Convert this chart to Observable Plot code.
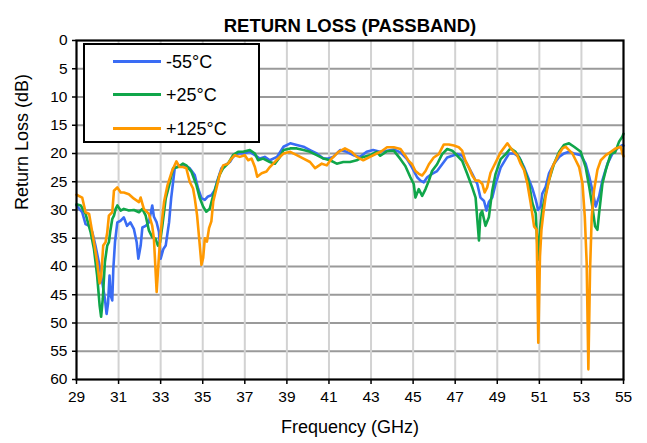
<!DOCTYPE html>
<html>
<head>
<meta charset="utf-8">
<script src="https://cdn.jsdelivr.net/npm/d3@7"></script>
<script src="https://cdn.jsdelivr.net/npm/@observablehq/plot@0.6"></script>
<style>
  html, body { margin: 0; padding: 0; background: #fff; }
  #wrap { position: relative; width: 647px; height: 443px; font-family: "Liberation Sans", Arial, sans-serif; }
  #legend { position: absolute; left: 83px; top: 43px; width: 173px; height: 96px; border: 2px solid #000; background: #fff; }
  .entry { position: absolute; left: 0; height: 20px; }
  .swatch { position: absolute; left: 28px; width: 48px; height: 3px; }
  .lab { position: absolute; left: 81px; font-size: 18px; line-height: 20px; white-space: nowrap; color: #000; }
</style>
</head>
<body>
<div id="wrap"><div id="legend"></div></div>
<script>
const titleText = "RETURN LOSS (PASSBAND)";
const xLabel = "Frequency (GHz)";
const yLabel = "Return Loss (dB)";
const xTicks = [29, 31, 33, 35, 37, 39, 41, 43, 45, 47, 49, 51, 53, 55];
const yTicks = [0, 5, 10, 15, 20, 25, 30, 35, 40, 45, 50, 55, 60];
const seriesNames = ["-55°C", "+25°C", "+125°C"];
const seriesColors = ["#3a6cf4", "#10a64a", "#ff9900"];

// [frequency GHz, return loss dB]
const minus55 = [[29.0,29.2],[29.27,30.4],[29.43,32.5],[29.6,32.8],[29.75,33.9],[29.9,36.3],[30.06,39.2],[30.2,42.2],[30.35,45.7],[30.43,48.4],[30.5,46.5],[30.57,41.6],[30.62,45.1],[30.7,46.0],[30.75,40.4],[30.83,35.7],[30.94,32.2],[31.1,31.9],[31.25,31.3],[31.4,32.8],[31.56,32.2],[31.73,33.4],[31.86,35.7],[31.94,38.6],[32.05,36.3],[32.13,33.1],[32.29,32.8],[32.44,32.2],[32.6,29.2],[32.68,31.2],[32.81,32.2],[32.92,33.9],[33.0,38.6],[33.13,36.9],[33.24,36.3],[33.4,32.2],[33.5,27.9],[33.67,22.6],[33.9,22.1],[34.14,22.1],[34.38,22.6],[34.62,23.8],[34.78,26.2],[34.94,27.9],[35.1,28.2],[35.25,27.6],[35.41,27.4],[35.57,26.5],[35.73,24.4],[35.89,22.6],[36.05,22.1],[36.29,21.5],[36.44,20.6],[36.68,20.0],[36.92,20.0],[37.24,19.7],[37.48,20.3],[37.71,20.9],[37.95,20.6],[38.19,21.2],[38.53,20.6],[38.84,18.8],[39.16,18.2],[39.47,18.5],[39.79,18.8],[40.1,19.4],[40.42,20.0],[40.74,20.9],[40.97,20.9],[41.2,20.6],[41.53,19.4],[41.84,19.7],[42.16,20.3],[42.48,20.6],[42.79,19.7],[43.1,19.4],[43.42,19.7],[43.76,19.5],[44.08,19.3],[44.4,19.8],[44.71,21.0],[44.95,22.5],[45.19,24.2],[45.35,24.8],[45.51,25.1],[45.67,24.2],[45.9,23.6],[46.14,23.1],[46.38,21.9],[46.62,20.7],[46.86,20.4],[47.1,20.1],[47.33,20.4],[47.57,21.9],[47.81,23.6],[48.05,25.4],[48.2,27.8],[48.37,28.4],[48.49,30.1],[48.6,28.6],[48.76,27.8],[48.92,25.4],[49.16,22.5],[49.4,21.0],[49.56,20.0],[49.8,20.0],[50.03,20.6],[50.27,22.4],[50.51,24.7],[50.67,26.2],[50.83,28.2],[50.94,30.0],[51.06,29.4],[51.14,27.1],[51.3,25.9],[51.46,23.5],[51.7,21.8],[51.94,20.6],[52.17,20.0],[52.41,19.7],[52.65,20.0],[52.97,20.3],[53.2,21.8],[53.37,24.1],[53.52,26.5],[53.68,29.4],[53.84,27.6],[54.0,24.7],[54.24,21.8],[54.48,20.0],[54.71,19.1],[54.95,18.5],[55.0,18.6]];

const plus25 = [[29.0,29.0],[29.2,29.2],[29.43,30.7],[29.67,33.9],[29.83,36.9],[29.98,41.6],[30.1,46.9],[30.17,48.9],[30.25,45.7],[30.35,39.2],[30.46,36.3],[30.54,35.7],[30.6,33.9],[30.7,31.6],[30.78,31.0],[30.86,29.8],[30.94,29.2],[31.1,30.1],[31.25,29.8],[31.49,30.1],[31.73,30.0],[31.97,30.4],[32.13,29.8],[32.29,31.0],[32.44,33.6],[32.6,34.8],[32.76,35.1],[32.87,36.3],[32.97,35.7],[33.08,32.8],[33.24,28.0],[33.4,25.7],[33.59,22.6],[33.83,22.4],[34.06,21.8],[34.22,22.1],[34.46,23.2],[34.7,25.6],[34.86,27.9],[35.02,29.4],[35.17,30.3],[35.33,29.8],[35.5,27.4],[35.65,25.6],[35.8,23.8],[35.97,22.6],[36.2,21.8],[36.44,20.3],[36.68,19.7],[36.92,19.7],[37.24,19.4],[37.48,20.0],[37.63,21.2],[37.87,20.9],[38.19,21.5],[38.43,21.8],[38.67,20.6],[38.84,19.4],[39.16,19.1],[39.47,19.1],[39.79,19.4],[40.1,19.7],[40.42,20.3],[40.74,20.9],[41.05,21.2],[41.37,21.8],[41.68,21.5],[42.0,21.5],[42.32,21.2],[42.63,20.6],[42.95,20.3],[43.27,19.7],[43.44,20.4],[43.76,19.6],[44.08,19.5],[44.4,21.0],[44.63,22.2],[44.87,24.2],[45.03,25.4],[45.11,27.8],[45.27,26.3],[45.43,27.5],[45.59,26.3],[45.75,24.8],[45.9,23.1],[46.14,21.9],[46.38,20.1],[46.62,19.2],[46.86,19.5],[47.1,20.4],[47.33,21.3],[47.57,23.6],[47.81,26.0],[47.97,27.8],[48.13,35.4],[48.2,30.7],[48.28,30.2],[48.44,32.8],[48.6,31.3],[48.76,26.6],[48.92,23.6],[49.16,21.0],[49.4,20.1],[49.63,19.1],[49.87,19.7],[50.11,21.2],[50.35,23.5],[50.51,25.3],[50.67,28.8],[50.83,30.6],[50.94,38.8],[51.03,33.5],[51.14,30.0],[51.3,27.1],[51.46,24.7],[51.7,21.8],[51.94,19.7],[52.17,18.5],[52.41,18.2],[52.65,18.8],[52.97,19.7],[53.2,22.4],[53.37,25.9],[53.52,29.4],[53.65,32.9],[53.76,33.5],[53.84,30.6],[54.0,25.3],[54.16,22.9],[54.4,20.0],[54.6,19.8],[54.79,17.9],[54.95,17.0],[55.0,16.5]];

const plus125 = [[29.0,27.3],[29.27,27.8],[29.43,30.4],[29.6,30.7],[29.83,35.7],[29.98,39.2],[30.1,43.0],[30.17,42.0],[30.27,36.3],[30.38,35.7],[30.46,34.0],[30.54,31.0],[30.7,30.4],[30.78,26.6],[30.94,26.0],[31.1,26.9],[31.25,26.9],[31.49,27.2],[31.73,28.0],[31.97,28.6],[32.05,27.8],[32.2,29.8],[32.44,30.7],[32.6,32.8],[32.68,35.1],[32.81,44.5],[32.9,39.2],[33.0,34.0],[33.16,28.6],[33.32,25.7],[33.55,23.0],[33.75,21.4],[33.9,22.4],[34.06,22.4],[34.22,22.6],[34.38,25.0],[34.54,26.2],[34.62,27.9],[34.73,30.9],[34.83,35.0],[34.94,39.7],[35.02,38.5],[35.1,35.0],[35.2,35.6],[35.3,33.2],[35.41,32.0],[35.5,28.5],[35.65,26.2],[35.8,23.8],[35.97,22.1],[36.2,21.8],[36.37,20.9],[36.52,20.3],[36.76,20.6],[37.0,20.3],[37.16,21.2],[37.32,20.9],[37.48,22.4],[37.59,24.1],[37.8,23.5],[38.03,23.2],[38.19,22.4],[38.5,21.2],[38.84,20.0],[39.16,19.7],[39.47,20.3],[39.79,20.9],[40.1,21.5],[40.34,22.6],[40.66,21.8],[40.9,22.1],[41.13,20.9],[41.45,19.7],[41.76,19.1],[42.08,19.7],[42.32,20.6],[42.63,21.2],[42.95,20.6],[43.27,20.0],[43.5,19.6],[43.76,18.9],[44.08,18.9],[44.4,19.2],[44.63,20.4],[44.79,21.3],[44.95,21.9],[45.11,23.1],[45.27,23.6],[45.43,23.9],[45.59,23.1],[45.75,21.9],[45.98,20.7],[46.22,20.1],[46.46,18.4],[46.7,18.4],[46.94,18.6],[47.17,18.9],[47.33,19.5],[47.49,21.3],[47.65,22.5],[47.81,23.9],[47.97,24.8],[48.13,24.8],[48.29,25.4],[48.4,26.9],[48.52,26.0],[48.68,23.4],[48.92,21.6],[49.16,19.8],[49.48,18.2],[49.63,19.0],[49.79,19.7],[49.95,20.3],[50.11,21.8],[50.27,22.9],[50.43,25.3],[50.59,28.8],[50.75,32.9],[50.87,33.5],[50.95,53.5],[51.03,38.2],[51.1,33.5],[51.19,30.6],[51.3,27.6],[51.46,24.7],[51.62,22.4],[51.78,21.2],[51.94,20.0],[52.1,19.1],[52.25,18.8],[52.41,19.4],[52.57,20.0],[52.73,21.2],[52.89,22.4],[53.05,25.3],[53.16,31.2],[53.25,39.4],[53.33,58.2],[53.41,40.6],[53.49,31.2],[53.6,26.5],[53.76,22.9],[53.92,21.2],[54.16,20.3],[54.4,19.7],[54.63,19.1],[54.87,18.8],[54.95,20.0],[55.0,20.5]];

const seriesData = [minus55, plus25, plus125];
const rows = seriesData.flatMap((pts, i) => pts.map(([f, rl]) => ({f, rl, name: seriesNames[i]})));

const chart = Plot.plot({
  width: 647,
  height: 443,
  marginLeft: 76,
  marginRight: 24,
  marginTop: 40,
  marginBottom: 64,
  style: {fontFamily: "'Liberation Sans', Arial, sans-serif", fontSize: "15px", color: "#000", background: "#fff", overflow: "visible"},
  x: {domain: [29, 55]},
  y: {domain: [0, 60], reverse: true},
  color: {domain: seriesNames, range: seriesColors},
  marks: [
    Plot.ruleY(yTicks.slice(1, -1), {stroke: "#9a9a9a", strokeWidth: 2}),
    Plot.ruleX(xTicks.slice(1, -1), {stroke: "#d2d2d2", strokeWidth: 2}),
    Plot.line(rows, {x: "f", y: "rl", z: "name", stroke: "name", strokeWidth: 2.6, strokeLinejoin: "round"}),
    Plot.frame({stroke: "#000", strokeWidth: 2.2}),
    Plot.axisX({ticks: xTicks, tickSize: 5, tickPadding: 6, label: null, fontSize: 15.5, strokeWidth: 1.5}),
    Plot.axisY({ticks: yTicks, tickSize: 4, tickPadding: 5, label: null, fontSize: 15.5, strokeWidth: 1.5}),
    Plot.text([xLabel], {frameAnchor: "bottom", dy: 53, fontSize: 18, fill: "#000"}),
    Plot.text([yLabel], {frameAnchor: "left", dx: -54, rotate: -90, fontSize: 18, fill: "#000"}),
    Plot.text([titleText], {frameAnchor: "top", dy: -22, fontSize: 18.5, fontWeight: "bold", fill: "#000"})
  ]
});
document.getElementById("wrap").prepend(chart);

const legend = document.getElementById("legend");
const rowTops = [7, 40, 74];
seriesNames.forEach((name, i) => {
  const e = document.createElement("div");
  e.className = "entry";
  e.style.top = rowTops[i] + "px";
  const sw = document.createElement("div");
  sw.className = "swatch";
  sw.style.top = "8px";
  sw.style.background = seriesColors[i];
  const lb = document.createElement("div");
  lb.className = "lab";
  lb.textContent = name;
  e.appendChild(sw);
  e.appendChild(lb);
  legend.appendChild(e);
});
</script>
</body>
</html>
